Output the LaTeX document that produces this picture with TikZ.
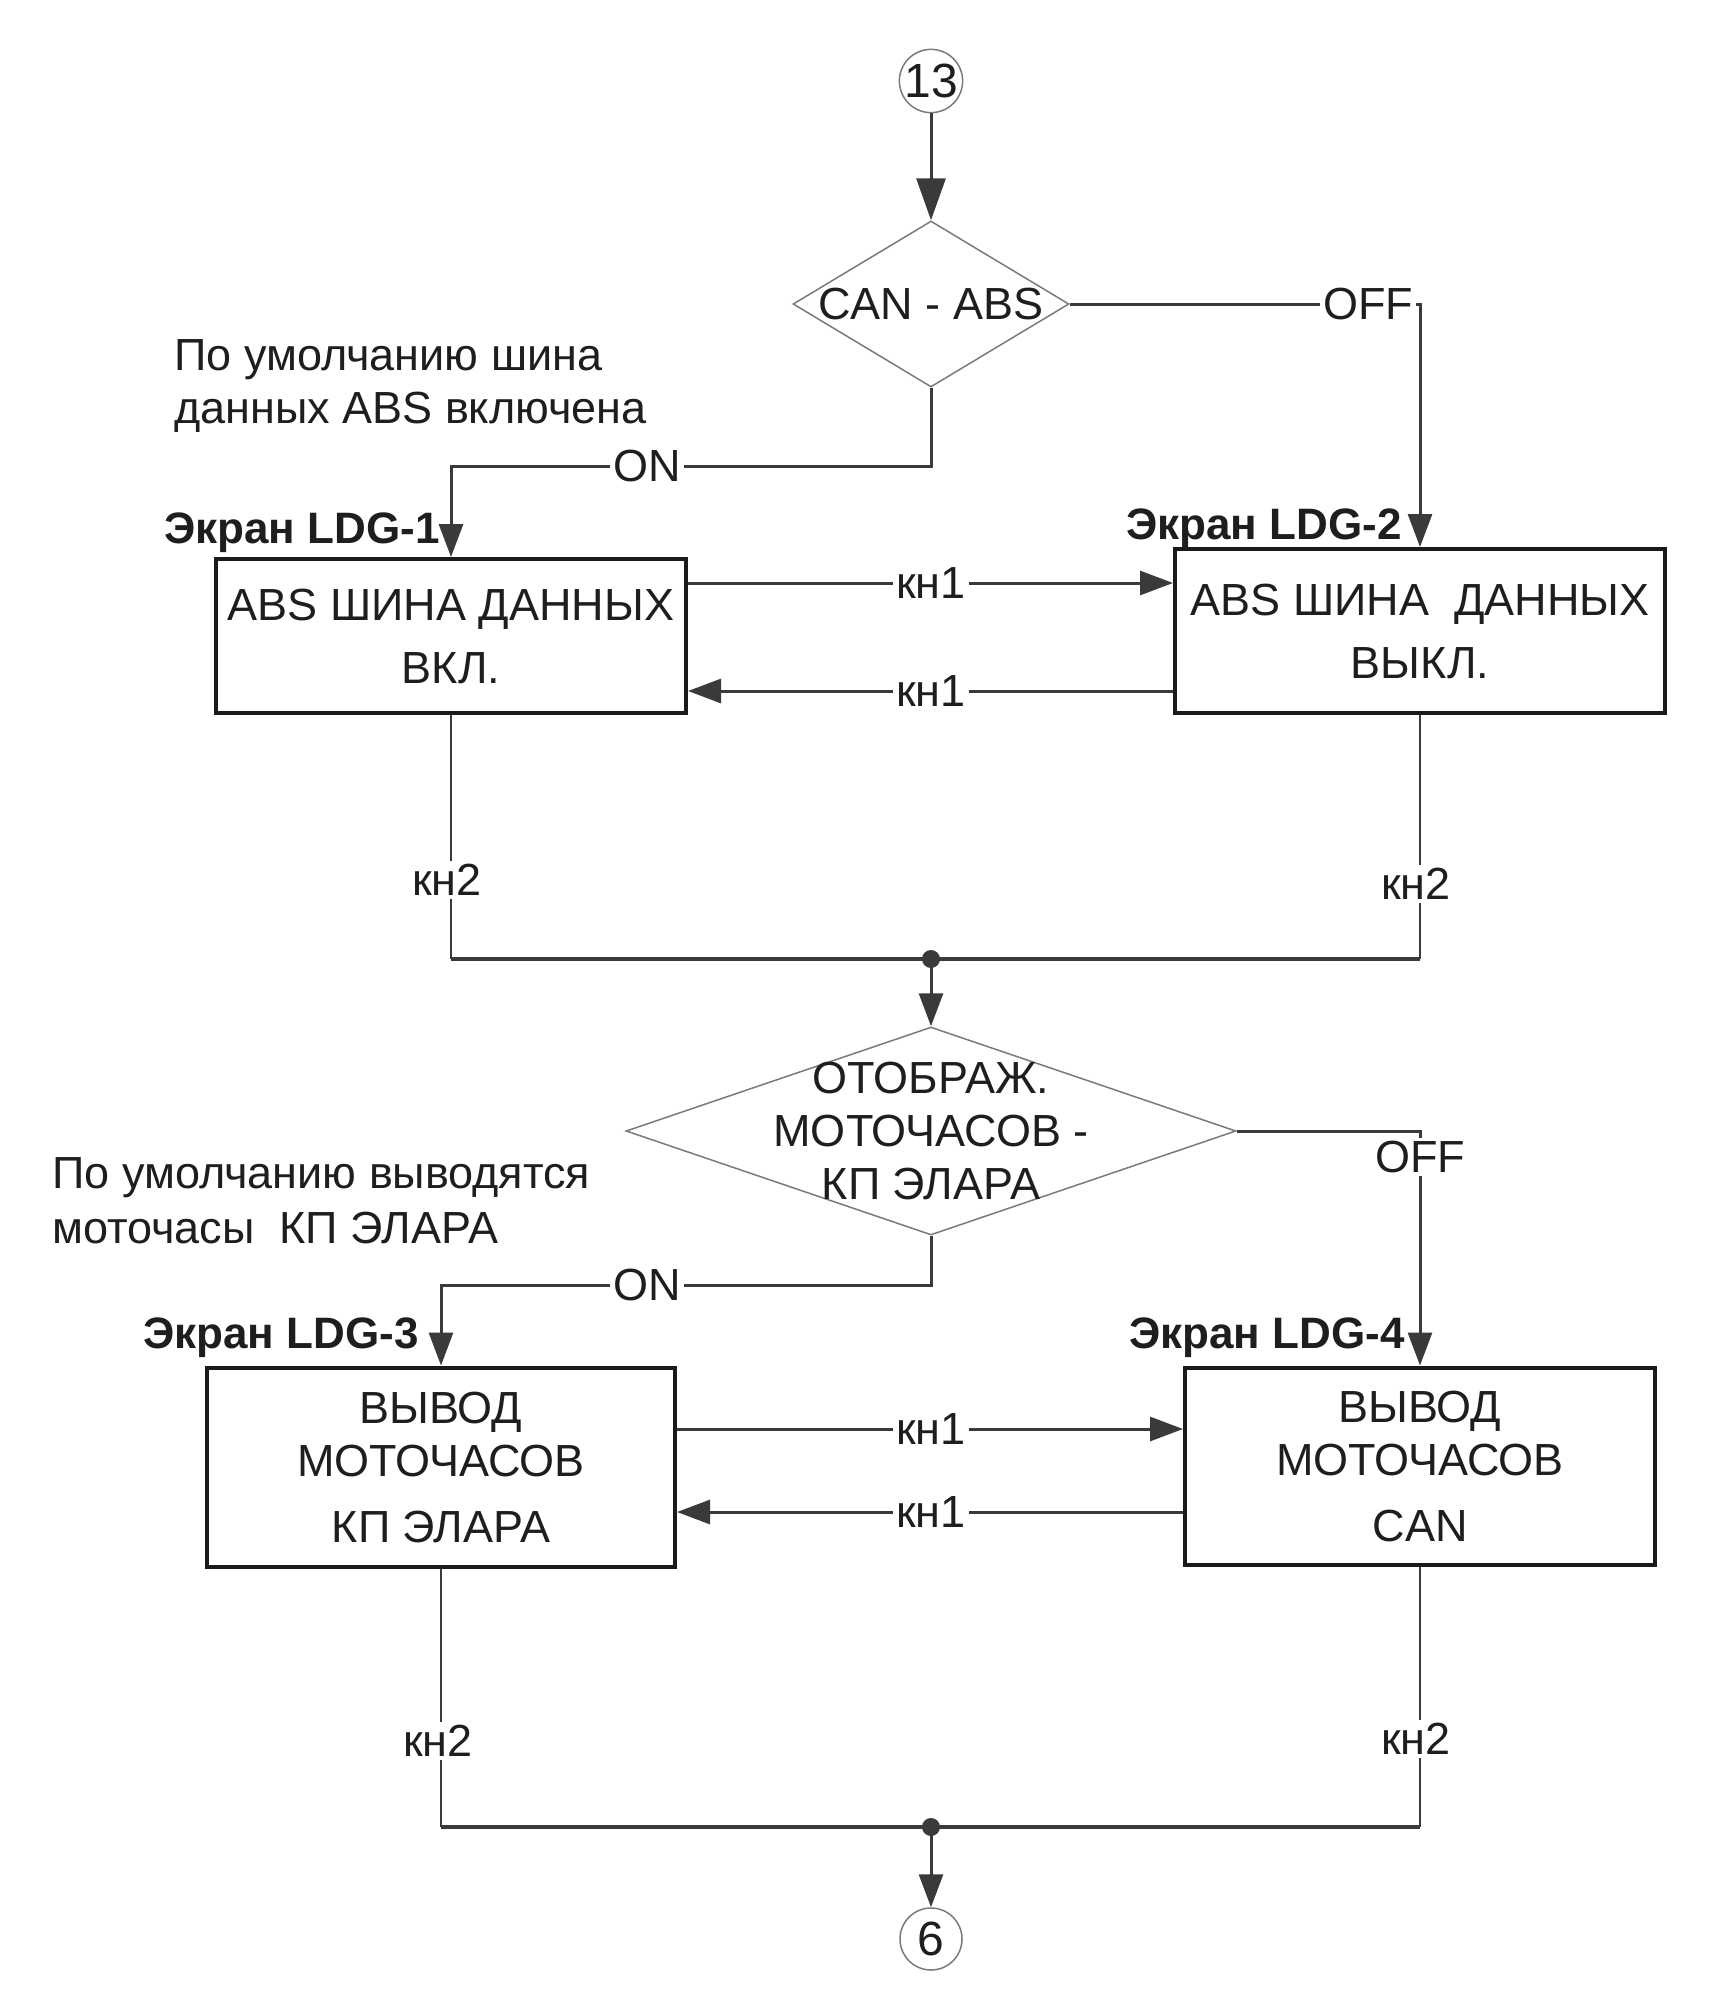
\documentclass[tikz,border=0pt]{standalone}
\usepackage{fontspec}
\setmainfont{Liberation Sans}
\usetikzlibrary{shapes.geometric,arrows.meta}
\definecolor{txt}{HTML}{1E1E1E}
\definecolor{linec}{HTML}{3A3A3A}
\definecolor{boxc}{HTML}{1A1A1A}
\definecolor{diac}{HTML}{7A7A7A}
\begin{document}
\begin{tikzpicture}[x=1pt,y=-1pt,
  every node/.style={font=\fontsize{45}{53}\selectfont, text=txt},
  conn/.style={draw=linec, line width=3pt},
  thinconn/.style={draw=linec, line width=1.8pt},
  busconn/.style={draw=linec, line width=4pt},
  arr/.style={-{Triangle[length=33pt,width=24pt]}},
  bigarr/.style={-{Triangle[length=42pt,width=29pt]}},
  stepbox/.style={draw=boxc, line width=4pt, fill=white, align=center, inner sep=0pt},
  dia/.style={diamond, draw=diac, line width=1.5pt, inner sep=0pt},
  conn-circ/.style={circle, draw=diac, line width=1.5pt, minimum size=62pt, inner sep=0pt, font=\fontsize{48}{53}\selectfont},
  lbl/.style={fill=white, inner sep=3pt},
  scr/.style={font=\fontsize{44}{52}\selectfont\bfseries, anchor=east, inner sep=0pt},
  ann/.style={anchor=west, align=left, inner sep=0pt}
]
\useasboundingbox (0,0) rectangle (1730,2000);

% nodes
\node[conn-circ] (c13) at (931,81) {13};
\node[dia, minimum width=276pt, minimum height=166pt,
      label={center:CAN - ABS}] (d1) at (931,304) {};
\node[stepbox, minimum width=470pt, minimum height=154pt] (b1) at (451,636)
  {ABS ШИНА ДАННЫХ\\[10pt]ВКЛ.};
\node[stepbox, minimum width=490pt, minimum height=164pt] (b2) at (1420,631)
  {ABS ШИНА\ \ ДАННЫХ\\[10pt]ВЫКЛ.};
\node[dia, minimum width=610pt, minimum height=208pt,
      label={[align=center]center:ОТОБРАЖ.\\МОТОЧАСОВ -\\КП ЭЛАРА}] (d2) at (931,1131) {};
\node[stepbox, minimum width=468pt, minimum height=199pt] (b3) at (441,1467)
  {ВЫВОД\\МОТОЧАСОВ\\[13pt]КП ЭЛАРА};
\node[stepbox, minimum width=470pt, minimum height=197pt] (b4) at (1420,1466)
  {ВЫВОД\\МОТОЧАСОВ\\[13pt]CAN};
\node[conn-circ] (c6) at (931,1939) {6};

% screen labels
\node[scr] (s1) at (440,533) {Экран LDG-1};
\node[scr] (s2) at (1402,529) {Экран LDG-2};
\node[scr] (s3) at (419,1338) {Экран LDG-3};
\node[scr] (s4) at (1405,1338) {Экран LDG-4};

% annotations
\node[ann] (a1) at (174,386) {По умолчанию шина\\данных ABS включена};
\node[ann, font=\fontsize{45}{55}\selectfont] (a2) at (52,1201) {По умолчанию выводятся\\моточасы\ \ КП ЭЛАРА};

% helper coordinates
\coordinate (off1) at (1420,304);
\coordinate (on1a) at (931,466);
\coordinate (on1b) at (451,466);
\coordinate (ya) at (0,583);
\coordinate (yb) at (0,691);
\coordinate (j1) at (931,959);
\coordinate (off2) at (1420,1131);
\coordinate (on2a) at (931,1285);
\coordinate (on2b) at (441,1285);
\coordinate (yc) at (0,1429);
\coordinate (yd) at (0,1512);
\coordinate (j2) at (931,1827);

% top part
\draw[conn, bigarr] (c13) -- (d1.north);
\draw[conn, arr] (d1.east) -- (off1) -- (b2.north);
\node[lbl] (offl1) at (1368,304) {OFF};
\draw[conn, arr] (d1.south) -- (on1a) -- (on1b) -- (b1.north);
\node[lbl] (onl1) at (647,466) {ON};

\draw[conn, arr] (b1.east |- ya) -- (b2.west |- ya);
\node[lbl] (k11) at (931,583) {кн1};
\draw[conn, arr] (b2.west |- yb) -- (b1.east |- yb);
\node[lbl] (k12) at (931,691) {кн1};

\draw[thinconn] (b1.south) -- (b1.south |- j1);
\draw[thinconn] (b2.south) -- (b2.south |- j1);
\draw[busconn] (b1.south |- j1) -- (b2.south |- j1);
\node[lbl] (k21) at (447,880) {кн2};
\node[lbl] (k22) at (1416,884) {кн2};
\fill[linec] (j1) circle (9);
\draw[conn, arr] (j1) -- (d2.north);

% second part
\draw[conn, arr] (d2.east) -- (off2) -- (b4.north);
\node[lbl] (offl2) at (1420,1157) {OFF};
\draw[conn, arr] (d2.south) -- (on2a) -- (on2b) -- (b3.north);
\node[lbl] (onl2) at (647,1285) {ON};

\draw[conn, arr] (b3.east |- yc) -- (b4.west |- yc);
\node[lbl] (k13) at (931,1429) {кн1};
\draw[conn, arr] (b4.west |- yd) -- (b3.east |- yd);
\node[lbl] (k14) at (931,1512) {кн1};

\draw[thinconn] (b3.south) -- (b3.south |- j2);
\draw[thinconn] (b4.south) -- (b4.south |- j2);
\draw[busconn] (b3.south |- j2) -- (b4.south |- j2);
\node[lbl] (k23) at (438,1741) {кн2};
\node[lbl] (k24) at (1416,1739) {кн2};
\fill[linec] (j2) circle (9);
\draw[conn, arr] (j2) -- (c6.north);
\end{tikzpicture}
\end{document}
